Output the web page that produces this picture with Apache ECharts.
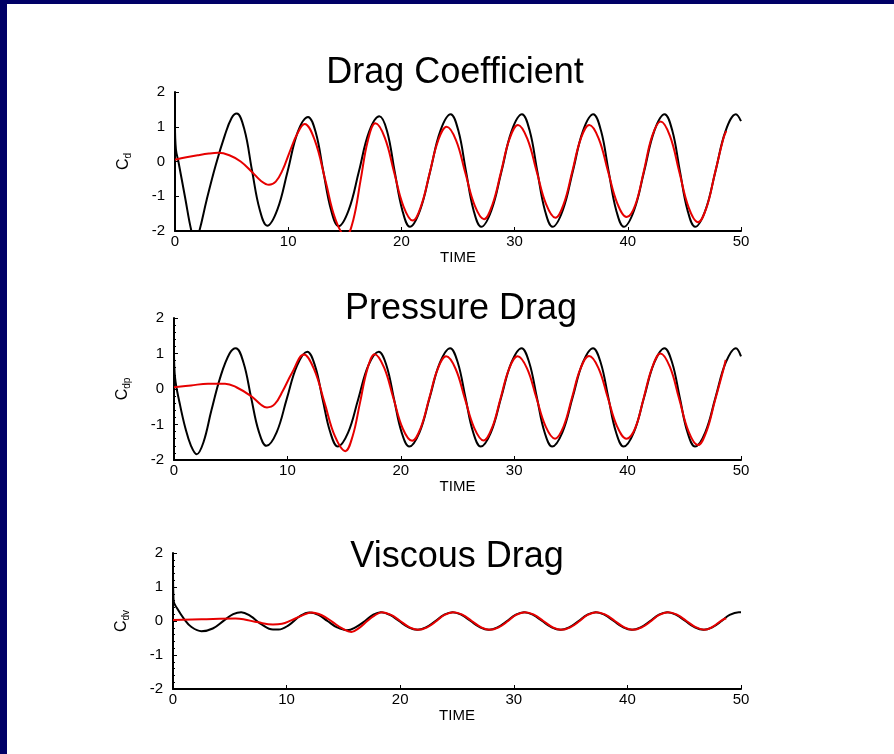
<!DOCTYPE html>
<html><head><meta charset="utf-8">
<script src="https://cdn.jsdelivr.net/npm/echarts@6/dist/echarts.min.js"></script>
<style>html,body{margin:0;padding:0;background:#fff}#c{width:894px;height:754px}</style>
</head><body><div id="c"></div>
<script>
const titles = ['Drag Coefficient', 'Pressure Drag', 'Viscous Drag'];
const yNameSubs = ['d', 'dp', 'dv'];
const xName = 'TIME';
const xMin = 0, xMax = 50, xStep = 10;
const yMin = -2, yMax = 2, yStep = 1;

// Drag coefficient
const cdBlackT = [0,0.08,0.3,0.9,1.45,1.8,2.15,2.8,3.6,4.4,5.0,5.45,
6.13,6.8,7.48,8.15,9.05,9.95,10.85,11.75,
12.43,13.1,13.78,14.45,15.35,16.25,17.15,18.05,
18.73,19.4,20.08,20.75,21.65,22.55,23.45,24.35,
25.03,25.7,26.38,27.05,27.95,28.85,29.75,30.65,
31.33,32.0,32.68,33.35,34.25,35.15,36.05,36.95,
37.63,38.3,38.98,39.65,40.55,41.45,42.35,43.25,
43.93,44.6,45.28,45.95,46.85,47.75,48.65,49.55,50];
const cdBlackV = [1.05,0.35,0.0,-1.05,-2.0,-2.3,-2.0,-1.1,-0.1,0.75,1.25,1.38,
0.92,-0.25,-1.38,-1.85,-1.38,-0.28,0.85,1.28,
0.84,-0.28,-1.39,-1.86,-1.39,-0.28,0.86,1.30,
0.88,-0.28,-1.40,-1.88,-1.40,-0.27,0.89,1.36,
0.89,-0.27,-1.41,-1.88,-1.41,-0.27,0.89,1.36,
0.89,-0.27,-1.41,-1.88,-1.41,-0.27,0.89,1.36,
0.89,-0.27,-1.41,-1.88,-1.41,-0.27,0.89,1.36,
0.89,-0.27,-1.41,-1.88,-1.41,-0.27,0.89,1.36,1.16];
const cdRedT = [0,1.0,2.0,3.0,3.8,4.8,5.8,6.8,7.6,8.3,8.9,9.5,10.1,10.8,11.45,
12.36,13.28,14.19,15.1,15.75,16.4,17.05,17.7,
18.53,19.35,20.18,21.0,21.75,22.5,23.25,24.0,
24.83,25.65,26.48,27.3,28.05,28.8,29.55,30.3,
31.13,31.95,32.78,33.6,34.35,35.1,35.85,36.6,
37.43,38.25,39.08,39.9,40.65,41.4,42.15,42.9,
43.73,44.55,45.38,46.2,46.95,47.7,48.45,48.7];
const cdRedV = [0.05,0.12,0.18,0.23,0.25,0.18,0.0,-0.3,-0.56,-0.67,-0.58,-0.25,0.25,0.8,1.08,
0.6,-0.54,-1.68,-2.15,-1.68,-0.53,0.62,1.1,
0.69,-0.3,-1.29,-1.7,-1.27,-0.33,0.61,1.0,
0.61,-0.33,-1.27,-1.66,-1.23,-0.3,0.65,1.05,
0.65,-0.29,-1.23,-1.62,-1.21,-0.28,0.66,1.05,
0.66,-0.28,-1.21,-1.6,-1.26,-0.3,0.73,1.15,
0.73,-0.3,-1.33,-1.75,-1.33,-0.33,0.67,0.88];

// Pressure drag
const cdpBlackT = [0,0.1,0.5,1.0,1.5,2.0,2.6,3.3,4.1,4.9,5.45,
6.13,6.8,7.48,8.15,9.05,9.95,10.85,11.75,
12.43,13.1,13.78,14.45,15.35,16.25,17.15,18.05,
18.73,19.4,20.08,20.75,21.65,22.55,23.45,24.35,
25.03,25.7,26.38,27.05,27.95,28.85,29.75,30.65,
31.33,32.0,32.68,33.35,34.25,35.15,36.05,36.95,
37.63,38.3,38.98,39.65,40.55,41.45,42.35,43.25,
43.93,44.6,45.28,45.95,46.85,47.75,48.65,49.55,50];
const cdpBlackV = [1.05,0.3,-0.4,-1.1,-1.6,-1.84,-1.5,-0.6,0.35,1.0,1.15,
0.74,-0.24,-1.2,-1.6,-1.22,-0.27,0.66,1.05,
0.66,-0.28,-1.22,-1.62,-1.23,-0.28,0.67,1.05,
0.67,-0.28,-1.23,-1.62,-1.22,-0.24,0.74,1.15,
0.74,-0.24,-1.22,-1.62,-1.22,-0.24,0.74,1.15,
0.74,-0.24,-1.22,-1.62,-1.22,-0.24,0.74,1.15,
0.74,-0.24,-1.22,-1.62,-1.22,-0.24,0.74,1.15,
0.74,-0.24,-1.22,-1.62,-1.22,-0.24,0.74,1.15,0.92];
const cdpRedT = [0,1.5,3.0,4.5,5.5,6.8,7.7,8.2,8.9,9.6,10.4,11.45,
12.36,13.28,14.19,15.1,15.75,16.4,17.05,17.7,
18.53,19.35,20.18,21.0,21.75,22.5,23.25,24.0,
24.83,25.65,26.48,27.3,28.05,28.8,29.55,30.3,
31.13,31.95,32.78,33.6,34.35,35.1,35.85,36.6,
37.43,38.25,39.08,39.9,40.65,41.4,42.15,42.9,
43.73,44.55,45.38,46.2,46.95,47.7,48.45,48.65];
const cdpRedV = [0.05,0.1,0.15,0.15,0.05,-0.2,-0.45,-0.52,-0.42,-0.05,0.45,0.97,
0.55,-0.39,-1.33,-1.75,-1.33,-0.39,0.56,0.98,
0.6,-0.26,-1.12,-1.46,-1.1,-0.27,0.56,0.92,
0.57,-0.27,-1.1,-1.45,-1.09,-0.26,0.57,0.92,
0.58,-0.24,-1.06,-1.4,-1.06,-0.24,0.58,0.93,
0.59,-0.24,-1.06,-1.4,-1.12,-0.28,0.59,1.0,
0.62,-0.28,-1.2,-1.58,-1.2,-0.33,0.55,0.82];

// Viscous drag
const cdvBlackT = [0,0.05,0.4,1.0,1.6,2.5,3.5,4.5,5.3,6.0,6.8,7.8,8.8,9.3,10.2,11.2,12.0,
12.8,13.6,14.4,15.3,16.1,16.9,17.6,18.3,
19.1,19.9,20.7,21.5,22.3,23.1,23.85,24.6,
25.4,26.2,27.0,27.8,28.6,29.4,30.15,30.9,
31.7,32.5,33.3,34.1,34.9,35.7,36.45,37.2,
38.0,38.8,39.6,40.4,41.2,42.0,42.75,43.5,
44.3,45.1,45.9,46.7,47.5,48.3,49.0,49.8,50];
const cdvBlackV = [1.55,0.6,0.35,0.05,-0.17,-0.3,-0.22,0.02,0.2,0.26,0.15,-0.1,-0.25,-0.25,-0.12,0.15,0.25,
0.18,0.0,-0.18,-0.27,-0.18,0.0,0.18,0.26,
0.18,0.0,-0.18,-0.26,-0.18,0.0,0.18,0.26,
0.18,0.0,-0.18,-0.26,-0.18,0.0,0.18,0.26,
0.18,0.0,-0.18,-0.26,-0.18,0.0,0.18,0.26,
0.18,0.0,-0.18,-0.26,-0.18,0.0,0.18,0.26,
0.18,0.0,-0.18,-0.26,-0.18,0.0,0.18,0.26,0.26];
const cdvRedT = [0,2.5,5.5,6.2,7.5,8.8,9.6,10.4,11.3,12.2,
13.1,14.0,14.9,15.7,16.4,17.1,17.7,18.4,
19.2,20.0,20.8,21.6,22.4,23.2,23.9,24.7,
25.5,26.3,27.1,27.9,28.7,29.5,30.2,31.0,
31.8,32.6,33.4,34.2,35.0,35.8,36.5,37.3,
38.1,38.9,39.7,40.5,41.3,42.1,42.8,43.6,
44.4,45.2,46.0,46.8,47.6,48.3,48.7];
const cdvRedV = [0.03,0.05,0.07,0.05,-0.04,-0.1,-0.08,0.02,0.15,0.25,
0.17,-0.02,-0.22,-0.32,-0.2,0.0,0.15,0.26,
0.18,0.0,-0.18,-0.26,-0.18,0.0,0.18,0.26,
0.18,0.0,-0.18,-0.26,-0.18,0.0,0.18,0.26,
0.18,0.0,-0.18,-0.26,-0.18,0.0,0.18,0.26,
0.18,0.0,-0.18,-0.26,-0.18,0.0,0.18,0.26,
0.18,0.0,-0.18,-0.26,-0.15,0.02,0.08];

const pairs = (t, v) => t.map((x, i) => [x, v[i]]);
const FONT = 'Liberation Sans, Arial, sans-serif';
const NAVY = '#000066';
const RED = '#e60000';

const grids = [
  {left: 175, right: 153, top: 92, height: 139},
  {left: 174, right: 153, top: 318, height: 142},
  {left: 173, right: 153, top: 553, height: 136}
];
const titleTops = [50, 286, 534];
const titleCenters = [450, 456, 452];

const xAxes = grids.map((g, i) => ({
  type: 'value', gridIndex: i, min: xMin, max: xMax, interval: xStep,
  name: xName, nameLocation: 'middle', nameGap: 18,
  nameTextStyle: {fontSize: 15, color: '#000', fontFamily: FONT},
  axisLine: {show: true, onZero: false, lineStyle: {color: '#000', width: 2}},
  axisTick: {show: true, inside: true, length: 4, lineStyle: {color: '#000'}},
  axisLabel: {color: '#000', fontSize: 15, margin: 3, fontFamily: FONT},
  splitLine: {show: false}
}));
const yAxes = grids.map((g, i) => ({
  type: 'value', gridIndex: i, min: yMin, max: yMax, interval: yStep,
  name: '{a|C}{b|' + yNameSubs[i] + '}', nameLocation: 'middle', nameRotate: 90, nameGap: 42,
  nameTextStyle: {color: '#000', fontFamily: FONT,
    rich: {a: {fontSize: 16, color: '#000', fontFamily: FONT},
           b: {fontSize: 10, color: '#000', fontFamily: FONT, padding: [8, 0, 0, 0]}}},
  axisLine: {show: true, onZero: false, lineStyle: {color: '#000', width: 2}},
  axisTick: {show: true, inside: true, length: 4, lineStyle: {color: '#000'}},
  minorTick: {show: i > 0, splitNumber: 5, length: 2, lineStyle: {color: '#000'}},
  axisLabel: {color: '#000', fontSize: 15, margin: 10, fontFamily: FONT},
  splitLine: {show: false}
}));

const mk = (t, v, i, color) => ({
  type: 'line', xAxisIndex: i, yAxisIndex: i, data: pairs(t, v),
  showSymbol: false, smooth: 0.4, clip: true,
  lineStyle: {color: color, width: 2}, itemStyle: {color: color}
});

const chart = echarts.init(document.getElementById('c'), null, {renderer: 'canvas'});
chart.setOption({
  animation: false,
  backgroundColor: '#fff',
  graphic: [
    {type: 'rect', shape: {x: 0, y: 0, width: 894, height: 4}, style: {fill: NAVY}, z: 100},
    {type: 'rect', shape: {x: 0, y: 0, width: 7, height: 754}, style: {fill: NAVY}, z: 100}
  ],
  title: titles.map((t, i) => ({
    text: t, left: titleCenters[i], top: titleTops[i], textAlign: 'center',
    textStyle: {fontSize: 36, fontWeight: 'normal', color: '#000', fontFamily: FONT}
  })),
  grid: grids,
  xAxis: xAxes,
  yAxis: yAxes,
  series: [
    mk(cdBlackT, cdBlackV, 0, '#000'), mk(cdRedT, cdRedV, 0, RED),
    mk(cdpBlackT, cdpBlackV, 1, '#000'), mk(cdpRedT, cdpRedV, 1, RED),
    mk(cdvBlackT, cdvBlackV, 2, '#000'), mk(cdvRedT, cdvRedV, 2, RED)
  ]
});
</script></body></html>
